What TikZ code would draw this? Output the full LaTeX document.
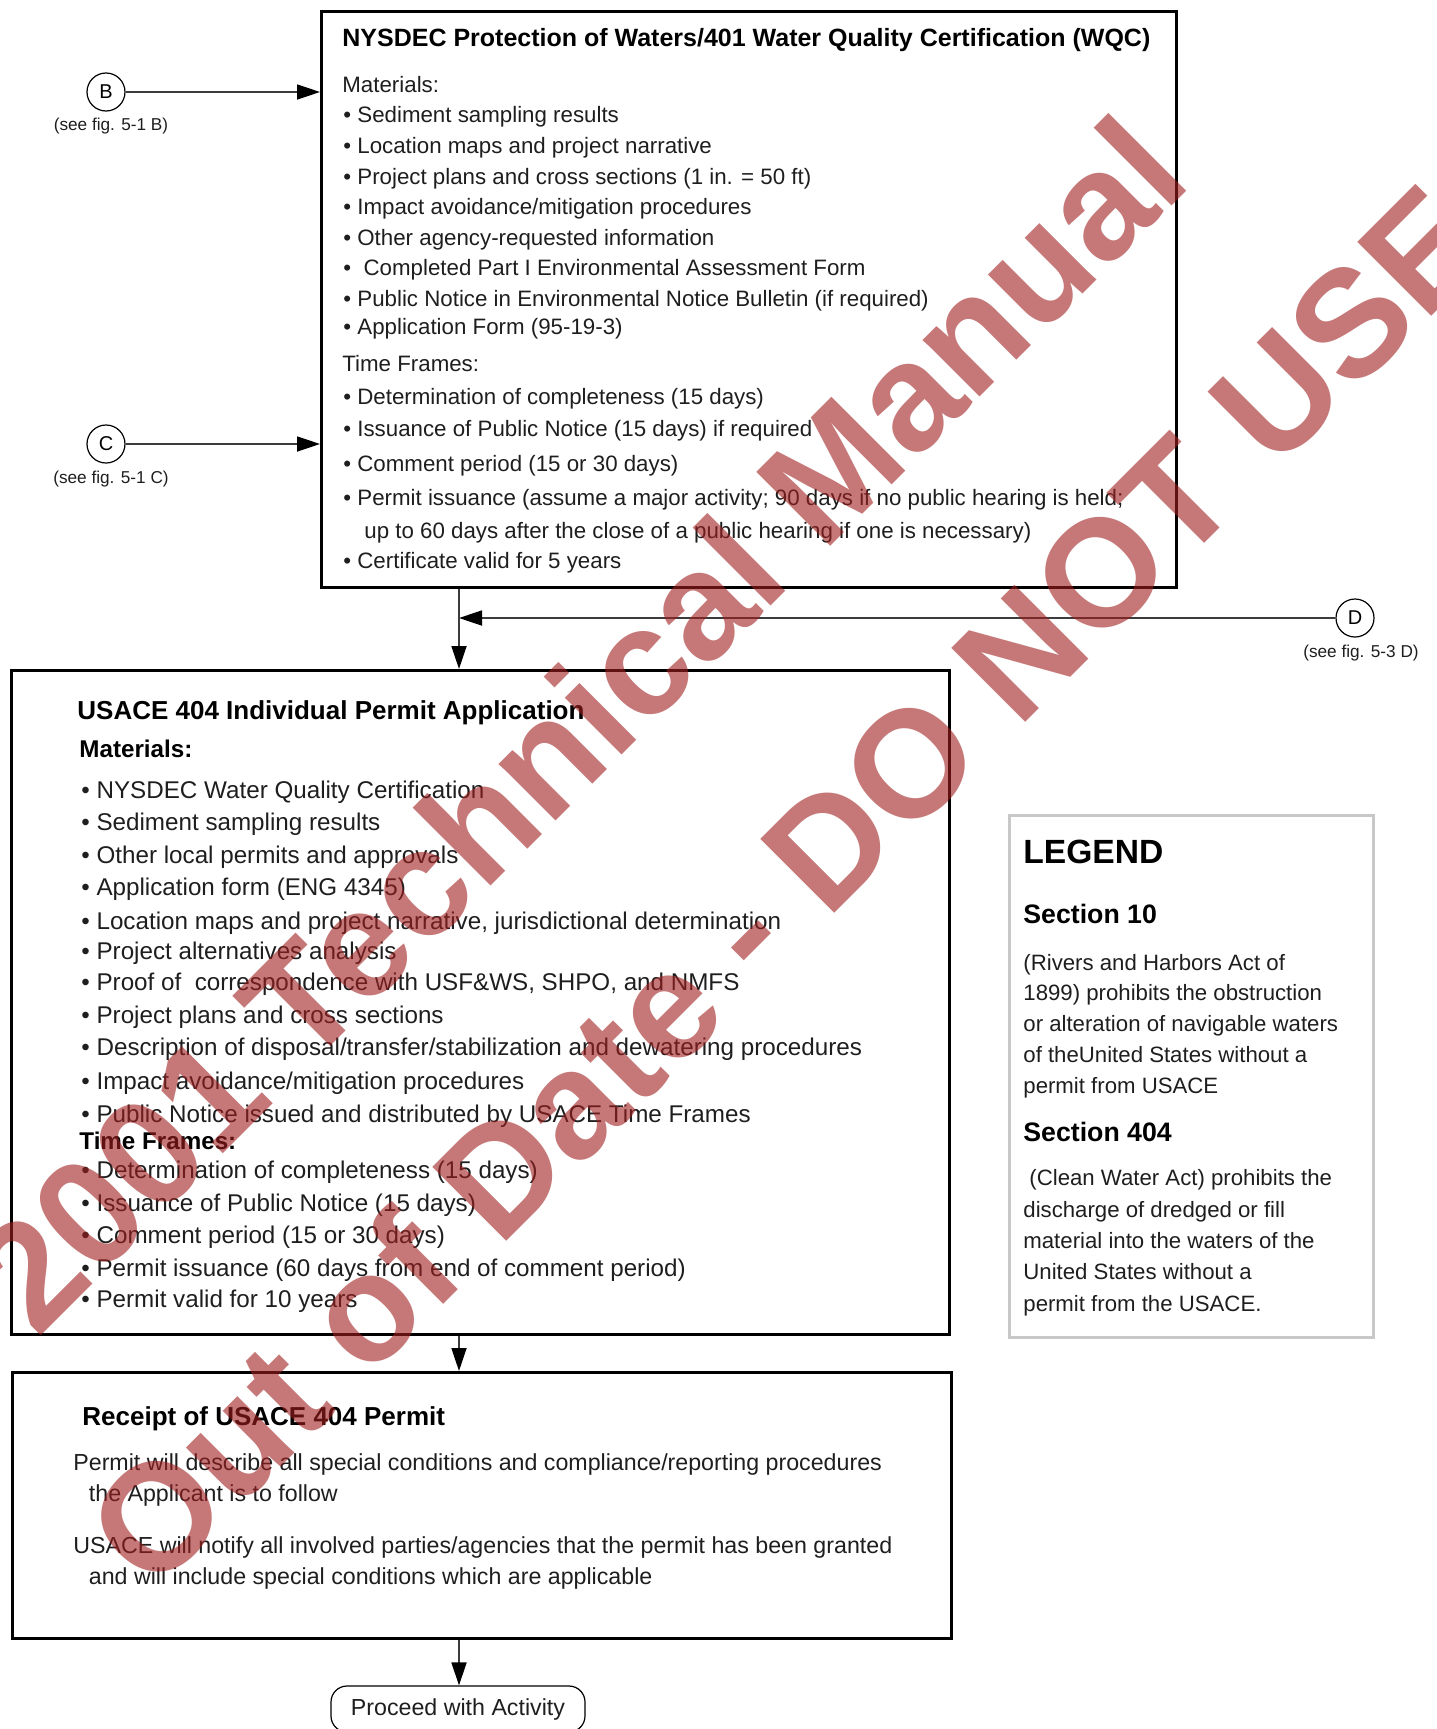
\documentclass[tikz,border=0pt]{standalone}
\usepackage{fontspec}
\setmainfont{Liberation Sans}
\usetikzlibrary{arrows.meta}
\definecolor{wmred}{RGB}{160,30,30}
\definecolor{bodytxt}{RGB}{30,30,30}
\definecolor{legendgray}{RGB}{200,200,200}
\definecolor{connline}{RGB}{60,60,60}
\begin{document}
\begin{tikzpicture}[x=0.5pt,y=-0.5pt,
  box/.style={draw=black, line width=1.6pt, fill=none, inner sep=0pt, anchor=north west},
  legendbox/.style={draw=legendgray, line width=1.5pt, inner sep=0pt, anchor=north west},
  tl/.style={anchor=base west, inner sep=0pt, text=bodytxt, font=\fontsize{11.6}{14}\selectfont},
  tlw/.style={anchor=base west, inner sep=0pt, text=bodytxt, font=\fontsize{11.15}{14}\selectfont},
  tlb/.style={anchor=base west, inner sep=0pt, text=bodytxt, font=\fontsize{12.1}{14}\selectfont},
  lgt/.style={anchor=base west, inner sep=0pt, text=bodytxt, font=\fontsize{11.1}{14}\selectfont},
  ttl/.style={anchor=base west, inner sep=0pt, text=black, font=\fontsize{12.5}{15}\selectfont\bfseries},
  ttlb/.style={anchor=base west, inner sep=0pt, text=black, font=\fontsize{13}{15}\selectfont\bfseries},
  subttl/.style={anchor=base west, inner sep=0pt, text=black, font=\fontsize{12.1}{14}\selectfont\bfseries},
  refcirc/.style={draw=black, circle, line width=0.6pt, minimum size=19pt, inner sep=0pt, font=\fontsize{10}{12}\selectfont},
  seelbl/.style={inner sep=0pt, text=bodytxt, font=\fontsize{8.6}{10}\selectfont},
  conn/.style={draw=connline, line width=0.9pt, -{Triangle[length=11.5pt,width=7.5pt,color=black]}},
  wmk/.style={rotate=45, anchor=base west, inner sep=0pt, text=wmred, text opacity=0.6, font=\fontsize{76}{80}\selectfont\bfseries}
]
\useasboundingbox (0,0) rectangle (1436,1729);

% ---------- boxes ----------
\node[box, minimum width=427.5pt, minimum height=288pt] (wqc) at (320,10) {};
\node[box, minimum width=469pt, minimum height=332pt] (usace) at (10,669) {};
\node[box, minimum width=469.5pt, minimum height=133pt] (receipt) at (11,1371) {};
\node[legendbox, minimum width=182pt, minimum height=261pt] (legend) at (1008,814) {};
\node[draw=black, line width=0.6pt, rounded corners=8pt, minimum width=127pt, minimum height=23pt, inner sep=0pt,
      font=\fontsize{11.6}{14}\selectfont, text=bodytxt] (proceed) at (458,1709) {Proceed with Activity};

% ---------- reference circles ----------
\node[refcirc] (B) at (106,92) {B};
\node[seelbl] (Blbl) at (111,126) {(see fig. 5-1 B)};
\node[refcirc] (C) at (106,444) {C};
\node[seelbl] (Clbl) at (111,479) {(see fig. 5-1 C)};
\node[refcirc] (D) at (1355,618) {D};
\node[seelbl] (Dlbl) at (1361,653) {(see fig. 5-3 D)};

\coordinate (spine) at (459,0);

% ---------- connectors ----------
\draw[conn] (B.east) -- (B.east -| wqc.west);
\draw[conn] (C.east) -- (C.east -| wqc.west);
\draw[conn] (D.west) -- (D.west -| spine);
\draw[conn] (wqc.south -| spine) -- (usace.north -| spine);
\draw[conn] (usace.south -| spine) -- (receipt.north -| spine);
\draw[conn] (receipt.south -| spine) -- (proceed.north -| spine);

% ---------- WQC box text ----------
\node[ttl] (wqcT) at (342,46.5) {NYSDEC Protection of Waters/401 Water Quality Certification (WQC)};
\node[tlw] (w1) at (342,92) {Materials:};
\node[tlw] (w2) at (343,122.5) {• Sediment sampling results};
\node[tlw] (w3) at (343,153) {• Location maps and project narrative};
\node[tlw] (w4) at (343,184.5) {• Project plans and cross sections (1 in. = 50 ft)};
\node[tlw] (w5) at (343,214.5) {• Impact avoidance/mitigation procedures};
\node[tlw] (w6) at (343,245) {• Other agency-requested information};
\node[tlw] (w7) at (343,275.5) {•\ \ Completed Part I Environmental Assessment Form};
\node[tlw] (w8) at (343,306.5) {• Public Notice in Environmental Notice Bulletin (if required)};
\node[tlw] (w9) at (343,334.5) {• Application Form (95-19-3)};
\node[tlw] (w10) at (342,371.5) {Time Frames:};
\node[tlw] (w11) at (343,404) {• Determination of completeness (15 days)};
\node[tlw] (w12) at (343,436.5) {• Issuance of Public Notice (15 days) if required};
\node[tlw] (w13) at (343,471.5) {• Comment period (15 or 30 days)};
\node[tlw] (w14) at (343,505.5) {• Permit issuance (assume a major activity; 90 days if no public hearing is held;};
\node[tlw] (w15) at (364,538) {up to 60 days after the close of a public hearing if one is necessary)};
\node[tlw] (w16) at (343,568.5) {• Certificate valid for 5 years};

% ---------- USACE box text ----------
\node[ttlb] (uT) at (77,719.5) {USACE 404 Individual Permit Application};
\node[subttl] (uM) at (79,757.5) {Materials:};
\node[tlb] (u1) at (81,798.6) {• NYSDEC Water Quality Certification};
\node[tlb] (u2) at (81,830) {• Sediment sampling results};
\node[tlb] (u3) at (81,863) {• Other local permits and approvals};
\node[tlb] (u4) at (81,895.5) {• Application form (ENG 4345)};
\node[tlb] (u5) at (81,929) {• Location maps and project narrative, jurisdictional determination};
\node[tlb] (u6) at (81,959) {• Project alternatives analysis};
\node[tlb] (u7) at (81,990.6) {• Proof of \ correspondence with USF\&WS, SHPO, and NMFS};
\node[tlb] (u8) at (81,1023) {• Project plans and cross sections};
\node[tlb] (u9) at (81,1055) {• Description of disposal/transfer/stabilization and dewatering procedures};
\node[tlb] (u10) at (81,1089) {• Impact avoidance/mitigation procedures};
\node[tlb] (u11) at (81,1122) {• Public Notice issued and distributed by USACE Time Frames};
\node[subttl] (uTF) at (79,1149) {Time Frames:};
\node[tlb] (u12) at (81,1178) {• Determination of completeness (15 days)};
\node[tlb] (u13) at (81,1211.6) {• Issuance of Public Notice (15 days)};
\node[tlb] (u14) at (81,1243.7) {• Comment period (15 or 30 days)};
\node[tlb] (u15) at (81,1276) {• Permit issuance (60 days from end of comment period)};
\node[tlb] (u16) at (81,1307.6) {• Permit valid for 10 years};

% ---------- Receipt box text ----------
\node[ttlb] (rT) at (82,1425.5) {Receipt of USACE 404 Permit};
\node[tl] (r1) at (73,1470) {Permit will describe all special conditions and compliance/reporting procedures};
\node[tl] (r2) at (88.5,1501) {the Applicant is to follow};
\node[tl] (r3) at (73,1553) {USACE will notify all involved parties/agencies that the permit has been granted};
\node[tl] (r4) at (88.5,1584.5) {and will include special conditions which are applicable};

% ---------- Legend text ----------
\node[anchor=base west, inner sep=0pt, font=\fontsize{16.8}{20}\selectfont\bfseries] (lgT) at (1023,863.5) {LEGEND};
\node[anchor=base west, inner sep=0pt, font=\fontsize{13.35}{16}\selectfont\bfseries] (lg10) at (1023,923.5) {Section 10};
\node[lgt] (l1) at (1023,970) {(Rivers and Harbors Act of};
\node[lgt] (l2) at (1023,1000.5) {1899) prohibits the obstruction};
\node[lgt] (l3) at (1023,1031.5) {or alteration of navigable waters};
\node[lgt] (l4) at (1023,1062.5) {of theUnited States without a};
\node[lgt] (l5) at (1023,1093.5) {permit from USACE};
\node[anchor=base west, inner sep=0pt, font=\fontsize{13.35}{16}\selectfont\bfseries] (lg404) at (1023,1141.5) {Section 404};
\node[lgt] (l6) at (1029,1185) {(Clean Water Act) prohibits the};
\node[lgt] (l7) at (1023,1217) {discharge of dredged or fill};
\node[lgt] (l8) at (1023,1248) {material into the waters of the};
\node[lgt] (l9) at (1023,1279.5) {United States without a};
\node[lgt] (l10) at (1023,1311.5) {permit from the USACE.};

% ---------- watermark ----------
\node[wmk] (wm1) at (36.8,1340.2) {2001 Technical Manual};
\node[wmk] (wm2) at (152.7,1595.3) {Out of Date - DO NOT USE};
\end{tikzpicture}
\end{document}
